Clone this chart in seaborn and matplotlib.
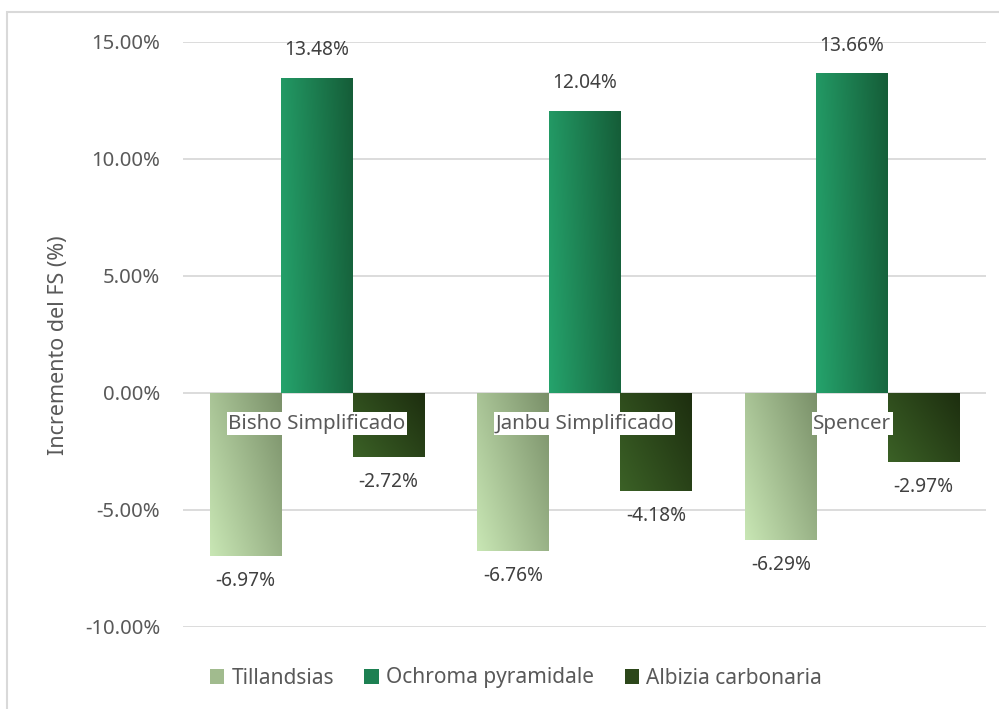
import numpy as np
import pandas as pd
import matplotlib
matplotlib.use("Agg")
import matplotlib.pyplot as plt
import seaborn as sns
from matplotlib.colors import LinearSegmentedColormap
from matplotlib.patches import Patch, Rectangle
from matplotlib.ticker import FuncFormatter

categories = ["Bisho Simplificado", "Janbu Simplificado", "Spencer"]
series_names = ["Tillandsias", "Ochroma pyramidale", "Albizia carbonaria"]
tillandsias = [-6.97, -6.76, -6.29]
ochroma = [13.48, 12.04, 13.66]
albizia = [-2.72, -4.18, -2.97]
y_ticks = [-10, -5, 0, 5, 10, 15]

# gradient colours (light corner -> dark corner)
grad_colors = {
    "Tillandsias": ("#c8e6b4", "#7a9069"),
    "Ochroma pyramidale": ("#25a36c", "#155d38"),
    "Albizia carbonaria": ("#3b6126", "#1d2e0f"),
}
mid_colors = {k: LinearSegmentedColormap.from_list(k, v)(0.5) for k, v in grad_colors.items()}

df = pd.DataFrame({
    "cat": categories * 3,
    "serie": sum([[s] * 3 for s in series_names], []),
    "val": tillandsias + ochroma + albizia,
})

sns.set_theme(style="white")
plt.rcParams["font.family"] = ["Noto Sans", "DejaVu Sans"]
text_color = "#595959"

fig = plt.figure(figsize=(9.99, 7.09), dpi=100)
ax = fig.add_axes([183 / 999, 1 - 627 / 709, (986 - 183) / 999, (627 - 42) / 709])

sns.barplot(data=df, x="cat", y="val", hue="serie", order=categories,
            hue_order=series_names, palette=mid_colors, width=0.8,
            saturation=1, legend=False, ax=ax, errorbar=None)

ax.set_ylim(-10, 15)
ax.set_yticks(y_ticks)
ax.yaxis.set_major_formatter(FuncFormatter(lambda v, p: f"{v:.2f}%"))
ax.grid(axis="y", color="#d9d9d9", linewidth=1.3)
ax.set_axisbelow(True)
for s in ax.spines.values():
    s.set_visible(False)
ax.tick_params(axis="y", length=0, pad=16.5, labelsize=14.6, labelcolor=text_color)
ax.tick_params(axis="x", length=0, labelbottom=False)
ax.set_xlabel("")
ax.set_ylabel("Incremento del FS (%)", fontsize=15.5, color=text_color)
ax.yaxis.set_label_coords((69 - 183) / 803, 1 - (345 - 42) / 585)

# gradient fill clipped to each bar
yy, xx = np.mgrid[0:1:64j, 0:1:64j]
for container, name in zip(ax.containers, series_names):
    cmap = LinearSegmentedColormap.from_list(name, grad_colors[name])
    if name == "Ochroma pyramidale":
        g = 0.85 * xx + 0.15 * yy
    else:
        g = 0.6 * xx + 0.4 * yy
    for bar in container:
        x0, y0 = bar.get_x(), bar.get_y()
        w, h = bar.get_width(), bar.get_height()
        ylo, yhi = min(y0, y0 + h), max(y0, y0 + h)
        im = ax.imshow(g, cmap=cmap, extent=[x0, x0 + w, ylo, yhi],
                       origin="lower", aspect="auto", zorder=2,
                       interpolation="bilinear")
        im.set_clip_path(bar)
        bar.set_facecolor("none")
        bar.set_edgecolor("none")
        off = 20 if h >= 0 else -18
        ax.annotate(f"{h:.2f}%", (x0 + w / 2, h), xytext=(0, off),
                    textcoords="offset points", ha="center", va="center",
                    fontsize=13.8, color="#404040", zorder=5)
ax.set_xlim(-0.5, 2.5)

for i, c in enumerate(categories):
    ax.annotate(c, (i, 0), xytext=(0, -22), textcoords="offset points",
                ha="center", va="center", fontsize=14.8, color=text_color,
                zorder=6,
                bbox=dict(boxstyle="square,pad=0.08", fc="white", ec="none"))

handles = [Patch(facecolor=mid_colors[s], edgecolor="none") for s in series_names]
fig.legend(handles, series_names, loc="center", ncol=3,
           bbox_to_anchor=(516 / 999, 1 - 678 / 709), frameon=False,
           handlelength=0.7, handleheight=0.7, handletextpad=0.35,
           columnspacing=1.45, fontsize=15, labelcolor=text_color)

# chart area border (left and top visible)
fig.patches.append(Rectangle((7 / 999, -0.1), 1.2, 1 - 12 / 709 + 0.1,
                             transform=fig.transFigure, fill=False,
                             ec="#d9d9d9", lw=1.5, zorder=-1))

fig.savefig("out.png", dpi=100)
